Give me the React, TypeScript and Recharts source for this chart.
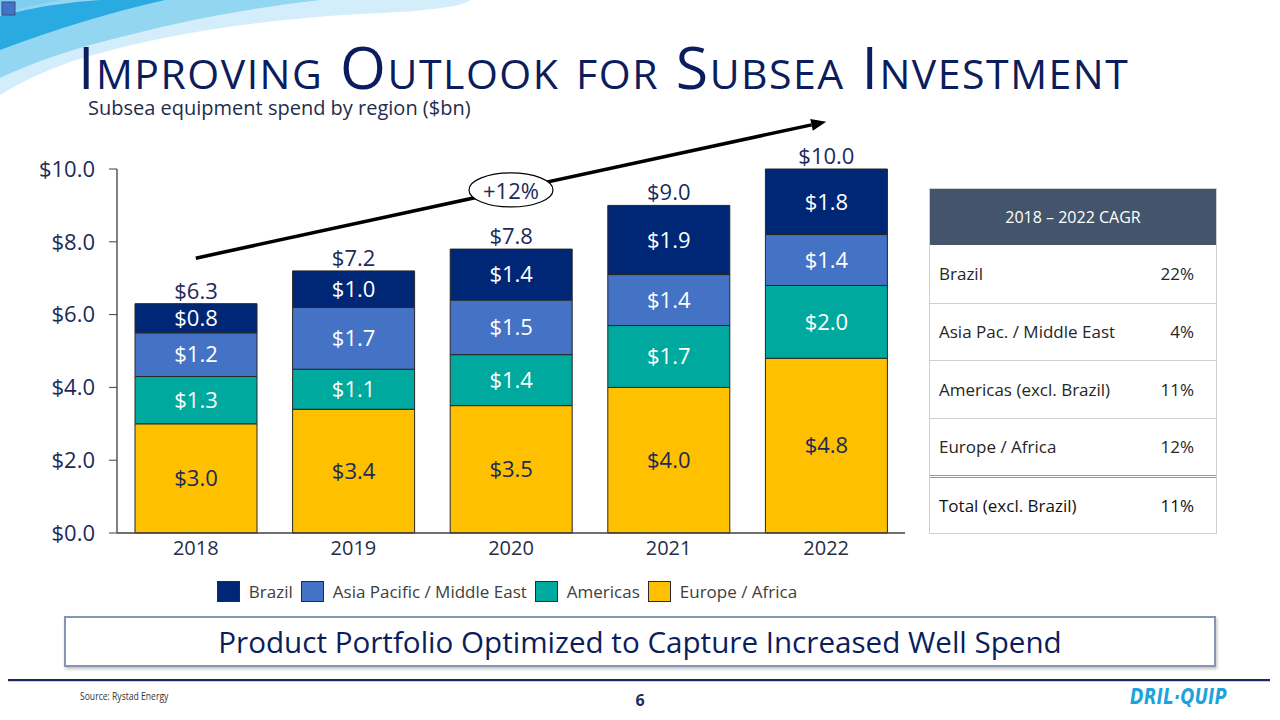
import React from "react";
import {
  BarChart,
  Bar,
  XAxis,
  YAxis,
  LabelList,
  ReferenceLine,
} from "recharts";

// Subsea equipment spend by region ($bn)
const years = ["2018", "2019", "2020", "2021", "2022"];
const europeAfrica = [3.0, 3.4, 3.5, 4.0, 4.8];
const americas = [1.3, 1.1, 1.4, 1.7, 2.0];
const asiaPacific = [1.2, 1.7, 1.5, 1.4, 1.4];
const brazil = [0.8, 1.0, 1.4, 1.9, 1.8];
const yTicks = [0, 2, 4, 6, 8, 10];

// growth arrow annotation (data coords)
const arrowFrom = { x: "2018", y: 7.55 };
const arrowTo = { x: "2022", y: 11.3 };
const arrowLabel = "+12%";

// CAGR table
const cagrRegions = ["Brazil", "Asia Pac. / Middle East", "Americas (excl. Brazil)", "Europe / Africa"];
const cagrValues = ["22%", "4%", "11%", "12%"];
const cagrTotal = { label: "Total (excl. Brazil)", value: "11%" };

const NAVY = "#1b2a5a";
const FONT = "'Open Sans', 'Noto Sans', sans-serif";

const series = [
  { key: "europe", name: "Europe / Africa", color: "#FFC000", label: NAVY },
  { key: "americas", name: "Americas", color: "#00A99D", label: "#ffffff" },
  { key: "asia", name: "Asia Pacific / Middle East", color: "#4472C4", label: "#ffffff" },
  { key: "brazil", name: "Brazil", color: "#002776", label: "#ffffff" },
];

const data = years.map((year, i) => ({
  year,
  europe: europeAfrica[i],
  americas: americas[i],
  asia: asiaPacific[i],
  brazil: brazil[i],
  total: europeAfrica[i] + americas[i] + asiaPacific[i] + brazil[i],
}));

const money = (v: number) => `$${Number(v).toFixed(1)}`;

function GrowthArrow(props: any) {
  const { x1, y1, x2, y2 } = props;
  const ang = Math.atan2(y2 - y1, x2 - x1);
  const len = 15;
  const w = 6;
  const bx = x2 - len * Math.cos(ang);
  const by = y2 - len * Math.sin(ang);
  const px = -Math.sin(ang) * w;
  const py = Math.cos(ang) * w;
  const mx = (x1 + x2) / 2;
  const my = (y1 + y2) / 2;
  return (
    <g>
      <line x1={x1} y1={y1} x2={bx} y2={by} stroke="#000" strokeWidth={3.5} />
      <polygon
        points={`${x2},${y2} ${bx + px},${by + py} ${bx - px},${by - py}`}
        fill="#000"
      />
      <ellipse cx={mx} cy={my} rx={42} ry={17} fill="#fff" stroke="#000" strokeWidth={1.2} />
      <text
        x={mx}
        y={my}
        textAnchor="middle"
        dominantBaseline="central"
        fontSize={22}
        fill={NAVY}
      >
        {arrowLabel}
      </text>
    </g>
  );
}

function Decoration() {
  return (
    <svg width={1280} height={130} style={{ position: "absolute", left: 0, top: 0 }}>
      <path d="M0,0 L470,0 Q460,10 360,14 Q190,24 70,62 Q30,76 0,95 Z" fill="#d3eefa" />
      <path d="M0,0 L320,0 Q215,12 125,36 Q50,54 0,78 Z" fill="#93d6f2" />
      <path d="M0,16 Q50,3 100,0 L165,0 Q85,18 0,50 Z" fill="#29abe2" />
      <path d="M0,0 L60,0 Q28,6 0,14 Z" fill="#7fcdf0" />
      <rect x={2} y={2} width={13} height={13} fill="#4472C4" stroke="#2f4f8f" strokeWidth={1} />
    </svg>
  );
}

function CagrTable() {
  const rowH = 57.5;
  const cell: React.CSSProperties = {
    height: rowH,
    display: "flex",
    alignItems: "center",
    justifyContent: "space-between",
    padding: "0 22px 0 9px",
    borderTop: "1px solid #cfcfcf",
    fontSize: 17,
    color: "#262626",
    boxSizing: "border-box",
  };
  return (
    <div
      style={{
        position: "absolute",
        left: 929,
        top: 188,
        width: 288,
        border: "1px solid #cfcfcf",
        boxSizing: "border-box",
        background: "#fff",
      }}
    >
      <div
        style={{
          height: 56,
          background: "#44546A",
          color: "#fff",
          fontSize: 16,
          display: "flex",
          alignItems: "center",
          justifyContent: "center",
        }}
      >
        2018 – 2022 CAGR
      </div>
      {cagrRegions.map((r, i) => (
        <div key={r} style={{ ...cell, borderTop: i === 0 ? "none" : cell.borderTop }}>
          <span>{r}</span>
          <span>{cagrValues[i]}</span>
        </div>
      ))}
      <div style={{ ...cell, borderTop: "3px double #9a9a9a", color: "#111" }}>
        <span>{cagrTotal.label}</span>
        <span>{cagrTotal.value}</span>
      </div>
    </div>
  );
}

function LegendRow() {
  const order = [...series].reverse();
  return (
    <div
      style={{
        position: "absolute",
        left: 117,
        width: 788,
        top: 580,
        display: "flex",
        justifyContent: "center",
        alignItems: "center",
        fontSize: 17,
        color: "#404040",
      }}
    >
      {order.map((s) => (
        <div key={s.key} style={{ display: "flex", alignItems: "center", marginRight: 8 }}>
          <span
            style={{
              width: 21,
              height: 19,
              background: s.color,
              border: "1px solid #2b2b2b",
              marginRight: 9,
              display: "inline-block",
            }}
          />
          <span>{s.name}</span>
        </div>
      ))}
    </div>
  );
}

export default function App() {
  return (
    <div
      style={{
        position: "absolute",
        left: 0,
        top: 0,
        width: 1280,
        height: 720,
        background: "#fff",
        fontFamily: FONT,
        overflow: "hidden",
      }}
    >
      <Decoration />
      <div
        style={{
          position: "absolute",
          left: 78,
          top: 38,
          height: 56,
          fontSize: 59,
          lineHeight: "56px",
          letterSpacing: 1.5,
          fontVariant: "small-caps",
          color: "#0b1d5c",
          whiteSpace: "nowrap",
        }}
      >
        Improving Outlook for Subsea Investment
      </div>
      <div
        style={{
          position: "absolute",
          left: 88,
          top: 98,
          fontSize: 20,
          lineHeight: 1,
          color: "#1f2d4d",
          whiteSpace: "nowrap",
        }}
      >
        Subsea equipment spend by region ($bn)
      </div>

      <div style={{ position: "absolute", left: 0, top: 100 }}>
        <BarChart
          width={920}
          height={470}
          data={data}
          margin={{ top: 69, right: 15, left: 0, bottom: 7 }}
        >
          <XAxis
            dataKey="year"
            height={30}
            tickLine={false}
            axisLine={{ stroke: "#404040", strokeWidth: 1.3 }}
            tick={{ fontSize: 20, fill: "#262d48" }}
          />
          <YAxis
            width={117}
            domain={[0, 10]}
            ticks={yTicks}
            tickFormatter={money}
            tickSize={8}
            tickMargin={14}
            axisLine={{ stroke: "#404040", strokeWidth: 1.3 }}
            tickLine={{ stroke: "#404040" }}
            tick={{ fontSize: 22, fill: NAVY }}
          />
          {series.map((s, idx) => (
            <Bar
              key={s.key}
              dataKey={s.key}
              name={s.name}
              stackId="spend"
              fill={s.color}
              stroke="#262626"
              strokeWidth={1}
              barSize={122}
              isAnimationActive={false}
            >
              <LabelList
                dataKey={s.key}
                position="center"
                formatter={money}
                fill={s.label}
                fontSize={22}
              />
              {idx === series.length - 1 && (
                <LabelList
                  dataKey="total"
                  position="top"
                  offset={5}
                  formatter={money}
                  fill={NAVY}
                  fontSize={22}
                />
              )}
            </Bar>
          ))}
          <ReferenceLine
            segment={[arrowFrom, arrowTo]}
            ifOverflow="visible"
            shape={GrowthArrow}
          />
        </BarChart>
      </div>

      <CagrTable />
      <LegendRow />

      <div
        style={{
          position: "absolute",
          left: 64,
          top: 616,
          width: 1152,
          height: 51,
          border: "2px solid #8496B0",
          boxSizing: "border-box",
          boxShadow: "1px 2px 3px rgba(0,0,0,0.25)",
          display: "flex",
          alignItems: "center",
          justifyContent: "center",
          fontSize: 29.6,
          color: "#0b1d5c",
        }}
      >
        Product Portfolio Optimized to Capture Increased Well Spend
      </div>

      <div style={{ position: "absolute", left: 8, top: 679, width: 1262, height: 2, background: "#1b2a5a" }} />
      <div style={{ position: "absolute", left: 8, top: 681, width: 1262, height: 1, background: "#c8d0dc" }} />
      <div
        style={{
          position: "absolute",
          left: 80,
          top: 688,
          fontSize: 11,
          color: "#333",
          transform: "scaleX(0.78)",
          transformOrigin: "left center",
          whiteSpace: "nowrap",
        }}
      >
        Source: Rystad Energy
      </div>
      <div
        style={{
          position: "absolute",
          left: 620,
          width: 40,
          textAlign: "center",
          top: 689,
          fontSize: 16,
          fontWeight: 700,
          color: "#1b2a5a",
        }}
      >
        6
      </div>
      <div
        style={{
          position: "absolute",
          left: 1130,
          top: 684,
          fontSize: 22,
          fontWeight: 900,
          fontStyle: "italic",
          color: "#1ca3dd",
          letterSpacing: 0.5,
          fontFamily: "'DejaVu Sans', sans-serif",
          transform: "scaleX(0.74)",
          transformOrigin: "left center",
          whiteSpace: "nowrap",
        }}
      >
        DRIL·QUIP
      </div>
    </div>
  );
}
